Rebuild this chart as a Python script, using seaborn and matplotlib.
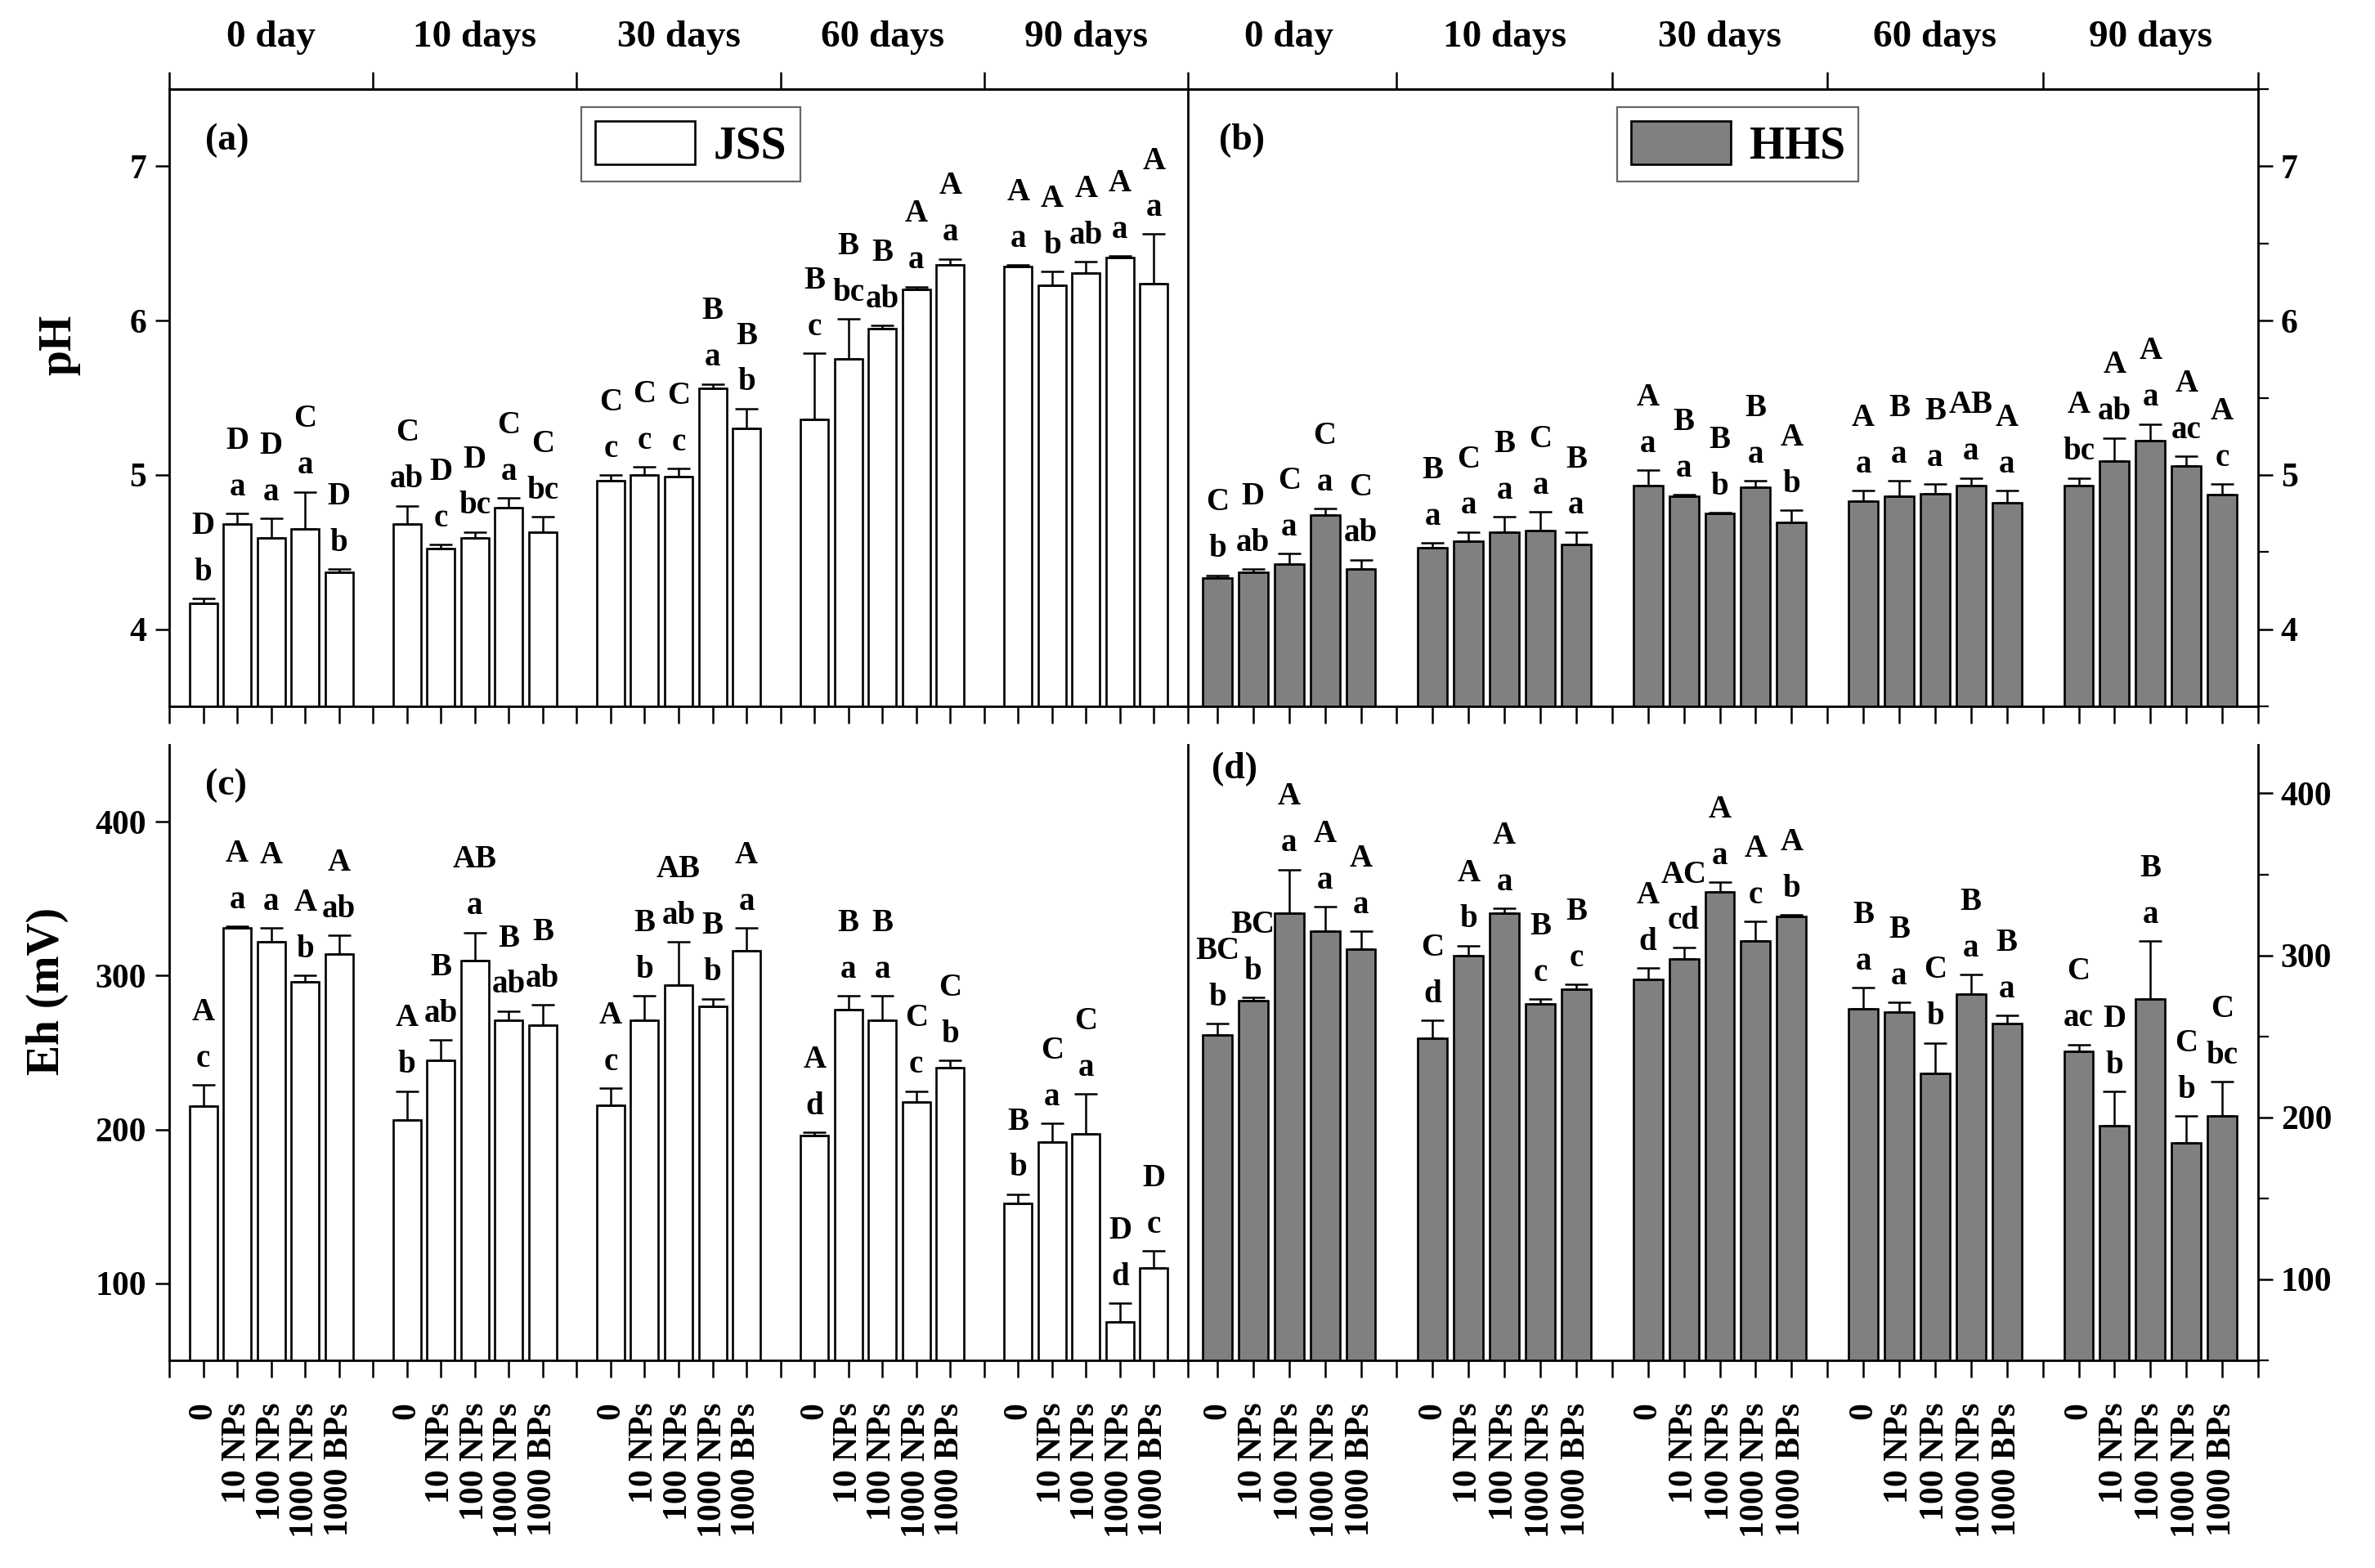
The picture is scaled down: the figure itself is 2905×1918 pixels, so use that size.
import numpy as np
import pandas as pd
import matplotlib
matplotlib.use('Agg')
import matplotlib.pyplot as plt
import seaborn as sns
from matplotlib.patches import Patch
from matplotlib.ticker import MultipleLocator

days = ['0 day', '10 days', '30 days', '60 days', '90 days']
treatments = ['0', '10 NPs', '100 NPs', '1000 NPs', '1000 BPs']

# pH, JSS soil (a)
ph_jss_mean = [4.17, 4.68, 4.59, 4.65, 4.37, 4.68, 4.52, 4.59, 4.79, 4.63,
               4.96, 5.00, 4.99, 5.56, 5.30, 5.36, 5.75, 5.95, 6.20, 6.36,
               6.35, 6.23, 6.31, 6.41, 6.24]
ph_jss_sd = [0.03, 0.07, 0.13, 0.24, 0.02, 0.12, 0.03, 0.04, 0.06, 0.10,
             0.04, 0.05, 0.05, 0.03, 0.13, 0.43, 0.26, 0.02, 0.02, 0.04,
             0.01, 0.09, 0.07, 0.01, 0.32]
ph_jss_upper = ['D', 'D', 'D', 'C', 'D', 'C', 'D', 'D', 'C', 'C',
                'C', 'C', 'C', 'B', 'B', 'B', 'B', 'B', 'A', 'A',
                'A', 'A', 'A', 'A', 'A']
ph_jss_lower = ['b', 'a', 'a', 'a', 'b', 'ab', 'c', 'bc', 'a', 'bc',
                'c', 'c', 'c', 'a', 'b', 'c', 'bc', 'ab', 'a', 'a',
                'a', 'b', 'ab', 'a', 'a']

# pH, HHS soil (b)
ph_hhs_mean = [4.33, 4.37, 4.42, 4.74, 4.39, 4.53, 4.57, 4.63, 4.64, 4.55,
               4.93, 4.86, 4.75, 4.92, 4.69, 4.83, 4.86, 4.88, 4.93, 4.82,
               4.93, 5.09, 5.22, 5.06, 4.87]
ph_hhs_sd = [0.02, 0.02, 0.07, 0.04, 0.06, 0.03, 0.06, 0.10, 0.12, 0.08,
             0.10, 0.01, 0.005, 0.04, 0.08, 0.07, 0.10, 0.06, 0.05, 0.08,
             0.05, 0.15, 0.11, 0.06, 0.07]
ph_hhs_upper = ['C', 'D', 'C', 'C', 'C', 'B', 'C', 'B', 'C', 'B',
                'A', 'B', 'B', 'B', 'A', 'A', 'B', 'B', 'AB', 'A',
                'A', 'A', 'A', 'A', 'A']
ph_hhs_lower = ['b', 'ab', 'a', 'a', 'ab', 'a', 'a', 'a', 'a', 'a',
                'a', 'a', 'b', 'a', 'b', 'a', 'a', 'a', 'a', 'a',
                'bc', 'ab', 'a', 'ac', 'c']

# Eh, JSS soil (c)
eh_jss_mean = [215, 331, 322, 296, 314, 206, 245, 310, 271, 268,
               216, 271, 294, 280, 316, 196, 278, 271, 218, 240,
               152, 192, 197, 75, 110]
eh_jss_sd = [14, 1, 9, 4, 12, 19, 13, 18, 6, 13,
             11, 16, 28, 5, 15, 2, 9, 16, 7, 5,
             6, 12, 26, 12, 11]
eh_jss_upper = ['A', 'A', 'A', 'A', 'A', 'A', 'B', 'AB', 'B', 'B',
                'A', 'B', 'AB', 'B', 'A', 'A', 'B', 'B', 'C', 'C',
                'B', 'C', 'C', 'D', 'D']
eh_jss_lower = ['c', 'a', 'a', 'b', 'ab', 'b', 'ab', 'a', 'ab', 'ab',
                'c', 'b', 'ab', 'b', 'a', 'd', 'a', 'a', 'c', 'b',
                'b', 'a', 'a', 'd', 'c']

# Eh, HHS soil (d)
eh_hhs_mean = [251, 272, 326, 315, 304, 249, 300, 326, 270, 279,
               285, 298, 339, 309, 324, 267, 265, 227, 276, 258,
               241, 195, 273, 184, 201]
eh_hhs_sd = [7, 2, 27, 15, 11, 11, 6, 3, 3, 3,
             7, 7, 6, 12, 1, 13, 6, 19, 12, 5,
             4, 21, 36, 17, 21]
eh_hhs_upper = ['BC', 'BC', 'A', 'A', 'A', 'C', 'A', 'A', 'B', 'B',
                'A', 'AC', 'A', 'A', 'A', 'B', 'B', 'C', 'B', 'B',
                'C', 'D', 'B', 'C', 'C']
eh_hhs_lower = ['b', 'b', 'a', 'a', 'a', 'd', 'b', 'a', 'c', 'c',
                'd', 'cd', 'a', 'c', 'b', 'a', 'a', 'b', 'a', 'a',
                'ac', 'b', 'a', 'b', 'bc']

plt.rcParams['font.family'] = ['Liberation Serif', 'DejaVu Serif']
plt.rcParams['font.weight'] = 'bold'

W, H = 2905, 1918
fig = plt.figure(figsize=(W / 100, H / 100), dpi=100)


def box(l, t, r, b):
    return [l / W, 1 - b / H, (r - l) / W, (b - t) / H]


ax_a = fig.add_axes(box(207, 109, 1453, 864))
ax_b = fig.add_axes(box(1445, 109, 2762, 864))
ax_c = fig.add_axes(box(207, 911, 1453, 1664))
ax_d = fig.add_axes(box(1445, 911, 2762, 1664))
# right-hand panels overlap the left ones slightly; keep them see-through
ax_b.patch.set_alpha(0)
ax_d.patch.set_alpha(0)

# 5 groups of 5 bars, each group 6 units wide
pos = np.array([6 * g + 1 + i for g in range(5) for i in range(5)], dtype=float)
bounds = np.arange(0, 31, 6)


def draw(ax, mean, sd, upper, lower, color):
    df = pd.DataFrame({'pos': pos, 'value': mean, 'day': np.repeat(days, 5)})
    sns.barplot(data=df, x='pos', y='value', native_scale=True, width=0.82,
                color=color, saturation=1, edgecolor='black', linewidth=1.9,
                errorbar=None, ax=ax, zorder=2)
    ax.errorbar(pos, mean, yerr=[np.zeros(len(sd)), sd], fmt='none',
                ecolor='black', elinewidth=1.8, capsize=10, capthick=1.8, zorder=3)
    top = np.array(mean) + np.array(sd)
    for x, y, up, lo in zip(pos, top, upper, lower):
        ax.annotate(lo, (x, y), xytext=(0, 16), textcoords='offset points',
                    ha='center', va='baseline', fontsize=28, fontweight='bold',
                    annotation_clip=False)
        ax.annotate(up, (x, y), xytext=(0, 57), textcoords='offset points',
                    ha='center', va='baseline', fontsize=28, fontweight='bold',
                    annotation_clip=False)
    ax.set_xlim(0, 30)
    ax.set_xlabel('')
    ax.set_ylabel('')
    for s in ax.spines.values():
        s.set_linewidth(2)
    ax.set_xticks(pos)
    ax.tick_params(axis='x', which='both', direction='out', length=15, width=1.8,
                   top=False)


draw(ax_a, ph_jss_mean, ph_jss_sd, ph_jss_upper, ph_jss_lower, 'white')
draw(ax_b, ph_hhs_mean, ph_hhs_sd, ph_hhs_upper, ph_hhs_lower, '#808080')
draw(ax_c, eh_jss_mean, eh_jss_sd, eh_jss_upper, eh_jss_lower, 'white')
draw(ax_d, eh_hhs_mean, eh_hhs_sd, eh_hhs_upper, eh_hhs_lower, '#808080')

# x ticks: boundaries as minor ticks
for ax, b in [(ax_a, bounds), (ax_c, bounds), (ax_b, bounds[1:]), (ax_d, bounds[1:])]:
    ax.set_xticks(b, minor=True)

for ax in (ax_a, ax_b):
    ax.tick_params(axis='x', labelbottom=False)
    sec = ax.secondary_xaxis('top')
    sec.set_xticks(bounds if ax is ax_a else bounds[1:])
    sec.tick_params(direction='out', length=15, width=1.8, labeltop=False)
    sec.spines['top'].set_linewidth(2)
    for g, d in enumerate(days):
        ax.text(6 * g + 3, 1.083, d, transform=ax.get_xaxis_transform(),
                ha='center', va='center', fontsize=34, fontweight='bold')

for ax in (ax_c, ax_d):
    ax.set_xticklabels(treatments * 5, rotation=90, fontsize=30, fontweight='bold')
    ax.tick_params(axis='x', pad=22)
    ax.spines['top'].set_visible(False)

ax_b.spines['left'].set_visible(False)
ax_d.spines['left'].set_visible(False)

# y axes
ax_a.set_ylim(3.5, 7.5)
ax_b.set_ylim(3.5, 7.5)
ax_c.set_ylim(50, 450)
ax_d.set_ylim(50, 430)
ax_a.set_yticks([4, 5, 6, 7])
ax_b.set_yticks([4, 5, 6, 7])
ax_c.set_yticks([100, 200, 300, 400])
ax_d.set_yticks([100, 200, 300, 400])
ax_b.yaxis.set_minor_locator(MultipleLocator(0.5))
ax_d.yaxis.set_minor_locator(MultipleLocator(50))
for ax in (ax_a, ax_c):
    ax.tick_params(axis='y', direction='out', length=12, width=1.8, pad=8,
                   labelsize=30, left=True, right=False)
for ax in (ax_b, ax_d):
    ax.yaxis.tick_right()
    ax.tick_params(axis='y', which='major', direction='out', length=13, width=1.8,
                   pad=7, labelsize=30)
    ax.tick_params(axis='y', which='minor', direction='out', length=9, width=1.6)
for ax in (ax_a, ax_b, ax_c, ax_d):
    for lab in ax.get_yticklabels():
        lab.set_fontweight('bold')

fig.text(72 / W, 1 - 422 / H, 'pH', rotation=90, ha='center', va='center',
         fontsize=40, fontweight='bold')
fig.text(58 / W, 1 - 1212 / H, 'Eh (mV)', rotation=90, ha='center', va='center',
         fontsize=40, fontweight='bold')

# panel letters
ax_a.text(0.035, 0.917, '(a)', transform=ax_a.transAxes, ha='left', va='center', fontsize=33)
ax_b.text(0.035, 0.917, '(b)', transform=ax_b.transAxes, ha='left', va='center', fontsize=33)
ax_c.text(0.035, 0.934, '(c)', transform=ax_c.transAxes, ha='left', va='center', fontsize=33)
ax_d.text(0.028, 0.960, '(d)', transform=ax_d.transAxes, ha='left', va='center', fontsize=33)

# legends
for ax, col, name, x0 in [(ax_a, 'white', 'JSS', 0.512), (ax_b, '#808080', 'HHS', 0.517)]:
    leg = ax.legend(handles=[Patch(facecolor=col, edgecolor='black', linewidth=1.9)],
                    labels=[name], loc='upper center', bbox_to_anchor=(x0, 0.971),
                    borderaxespad=0, prop={'size': 40, 'weight': 'bold'},
                    handlelength=2.2, handleheight=1.1, handletextpad=0.4,
                    borderpad=0.3, frameon=True, fancybox=False, framealpha=1,
                    edgecolor='#666666')
    leg.get_frame().set_linewidth(1.6)

fig.savefig('out.png', dpi=100)
